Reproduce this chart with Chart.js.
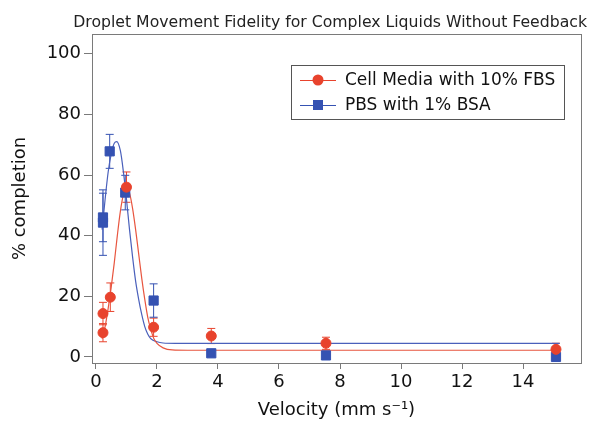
<!DOCTYPE html>
<html lang="en">
<head>
    <meta charset="UTF-8">
    <title>Droplet Movement Fidelity</title>
    <script src="https://cdn.jsdelivr.net/npm/chart.js"></script>
    <style>
        body { margin: 0; background: #ffffff; }
        .chart-container { width: 589px; height: 421px; position: relative; }
    </style>
</head>
<body>
    <div class="chart-container">
        <canvas id="fidelityChart"></canvas>
    </div>

    <script>
        // measured points (velocity in mm/s, % completion, error)
        const mediaX = [0.23, 0.23, 0.47, 1.0, 1.89, 3.78, 7.54, 15.08];
        const mediaY = [8, 14.3, 19.7, 56, 9.8, 6.9, 4.5, 2.5];
        const mediaErr = [3, 3.7, 4.7, 5, 3, 2.5, 2, 2];

        const bsaX = [0.23, 0.23, 0.45, 0.96, 1.89, 3.78, 7.54, 15.08];
        const bsaY = [44.3, 46, 67.8, 54.2, 18.6, 1.2, 0.5, 0];
        const bsaErr = [10.8, 8, 5.6, 5.7, 5.5, 0, 0, 0];

        // fitted curves
        const mediaFitX = [0.2, 0.3, 0.4, 0.5, 0.6, 0.7, 0.8, 0.9, 1.0, 1.1, 1.2, 1.3, 1.4, 1.5, 1.6, 1.7, 1.8, 1.9, 2.0, 2.2, 2.5, 3, 15.2];
        const mediaFitY = [6, 10, 16, 23, 31, 40, 48, 53.5, 55.5, 54, 49, 42, 34, 26, 19, 13, 9, 6, 4.5, 3, 2.3, 2.2, 2.2];

        const bsaFitX = [0.2, 0.3, 0.4, 0.5, 0.6, 0.68, 0.8, 0.9, 1.0, 1.1, 1.2, 1.3, 1.4, 1.5, 1.6, 1.7, 1.8, 2.0, 2.2, 2.6, 15.2];
        const bsaFitY = [42, 52, 61, 67, 70.5, 71, 68, 61, 52, 42, 33, 25, 19, 14, 10, 7.5, 6, 5, 4.6, 4.5, 4.5];

        const seriesNames = ['Cell Media with 10% FBS', 'PBS with 1% BSA'];
        const chartTitle = 'Droplet Movement Fidelity for Complex Liquids Without Feedback';
        const xTicks = [0, 2, 4, 6, 8, 10, 12, 14];
        const yTicks = [0, 20, 40, 60, 80, 100];

        const red = '#e8432d';
        const blue = '#3552b2';
        const axisColor = '#7a7a7a';
        const font = 'DejaVu Sans';

        const pts = (xs, ys) => xs.map((x, i) => ({ x: x, y: ys[i] }));

        // error bars, frame, title and legend
        const extras = {
            id: 'extras',
            beforeDatasetsDraw(chart) {
                const ctx = chart.ctx;
                const xs = chart.scales.x, ys = chart.scales.y;
                const bars = [[mediaX, mediaY, mediaErr, red], [bsaX, bsaY, bsaErr, blue]];
                ctx.save();
                ctx.lineWidth = 1;
                bars.forEach(([px, py, pe, col]) => {
                    ctx.strokeStyle = col;
                    px.forEach((x, i) => {
                        if (!pe[i]) return;
                        const cx = xs.getPixelForValue(x);
                        const y1 = ys.getPixelForValue(py[i] + pe[i]);
                        const y2 = ys.getPixelForValue(py[i] - pe[i]);
                        ctx.beginPath();
                        ctx.moveTo(cx, y1); ctx.lineTo(cx, y2);
                        ctx.moveTo(cx - 4, y1); ctx.lineTo(cx + 4, y1);
                        ctx.moveTo(cx - 4, y2); ctx.lineTo(cx + 4, y2);
                        ctx.stroke();
                    });
                });
                ctx.restore();
            },
            afterDraw(chart) {
                const ctx = chart.ctx;
                const a = chart.chartArea;
                ctx.save();
                ctx.strokeStyle = axisColor;
                ctx.lineWidth = 1;
                ctx.strokeRect(a.left + 0.5, a.top + 0.5, a.right - a.left, a.bottom - a.top);

                // title, sized to span the same width as the original
                ctx.font = '15px "' + font + '"';
                const size = 15 * 514 / ctx.measureText(chartTitle).width;
                ctx.font = size.toFixed(2) + 'px "' + font + '"';
                ctx.fillStyle = '#222';
                ctx.textAlign = 'right';
                ctx.textBaseline = 'alphabetic';
                ctx.fillText(chartTitle, 587, 27);

                // legend box
                const lx = 291, ly = 65, lw = 273, lh = 54;
                ctx.fillStyle = '#fff';
                ctx.fillRect(lx, ly, lw, lh);
                ctx.strokeStyle = '#555';
                ctx.strokeRect(lx + 0.5, ly + 0.5, lw, lh);
                const rows = [[seriesNames[0], red, 'circle'], [seriesNames[1], blue, 'rect']];
                ctx.font = '17px "' + font + '"';
                ctx.textAlign = 'left';
                ctx.textBaseline = 'middle';
                rows.forEach(([label, col, shape], i) => {
                    const cy = ly + 15 + i * 25;
                    ctx.strokeStyle = col;
                    ctx.beginPath();
                    ctx.moveTo(lx + 9, cy + 0.5); ctx.lineTo(lx + 45, cy + 0.5);
                    ctx.stroke();
                    ctx.fillStyle = col;
                    if (shape === 'circle') {
                        ctx.beginPath();
                        ctx.arc(lx + 27, cy, 5.5, 0, Math.PI * 2);
                        ctx.fill();
                    } else {
                        ctx.fillRect(lx + 22, cy - 5, 10, 10);
                    }
                    ctx.fillStyle = '#111';
                    ctx.fillText(label, lx + 54, cy + 1);
                });
                ctx.restore();
            }
        };

        new Chart(document.getElementById('fidelityChart'), {
            type: 'scatter',
            data: {
                datasets: [
                    {
                        label: seriesNames[0],
                        data: pts(mediaX, mediaY),
                        backgroundColor: red,
                        borderColor: red,
                        pointStyle: 'circle',
                        pointRadius: 5
                    },
                    {
                        label: seriesNames[1],
                        data: pts(bsaX, bsaY),
                        backgroundColor: blue,
                        borderColor: blue,
                        pointStyle: 'rect',
                        pointRadius: 6.5
                    },
                    {
                        label: 'media fit',
                        data: pts(mediaFitX, mediaFitY),
                        showLine: true,
                        borderColor: '#e8553f',
                        borderWidth: 1.2,
                        pointRadius: 0,
                        cubicInterpolationMode: 'monotone'
                    },
                    {
                        label: 'bsa fit',
                        data: pts(bsaFitX, bsaFitY),
                        showLine: true,
                        borderColor: '#4a60bb',
                        borderWidth: 1.2,
                        pointRadius: 0,
                        cubicInterpolationMode: 'monotone'
                    }
                ]
            },
            options: {
                responsive: true,
                maintainAspectRatio: false,
                animation: false,
                layout: { padding: { top: 34, right: 8, left: 0, bottom: 0 } },
                plugins: {
                    legend: { display: false },
                    tooltip: { enabled: false }
                },
                scales: {
                    x: {
                        type: 'linear',
                        min: -0.13,
                        max: 15.9,
                        afterBuildTicks: s => { s.ticks = xTicks.map(v => ({ value: v })); },
                        afterFit: s => { s.height = 58; },
                        grid: { drawOnChartArea: false, color: axisColor, tickLength: 6 },
                        border: { color: axisColor },
                        ticks: { color: '#111', font: { family: font, size: 18 }, padding: 3, maxRotation: 0 },
                        title: {
                            display: true,
                            text: 'Velocity (mm s\u207B\u00B9)',
                            color: '#111',
                            font: { family: font, size: 18 },
                            padding: { top: 0, bottom: 0 }
                        }
                    },
                    y: {
                        min: -2,
                        max: 106.5,
                        afterBuildTicks: s => { s.ticks = yTicks.map(v => ({ value: v })); },
                        afterFit: s => { s.width = 92; },
                        grid: { drawOnChartArea: false, color: axisColor, tickLength: 8 },
                        border: { color: axisColor },
                        ticks: { color: '#111', font: { family: font, size: 18 }, padding: 3 },
                        title: {
                            display: true,
                            text: '% completion',
                            color: '#111',
                            font: { family: font, size: 18 },
                            padding: { top: 10, bottom: 0 }
                        }
                    }
                }
            },
            plugins: [extras]
        });
    </script>
</body>
</html>
